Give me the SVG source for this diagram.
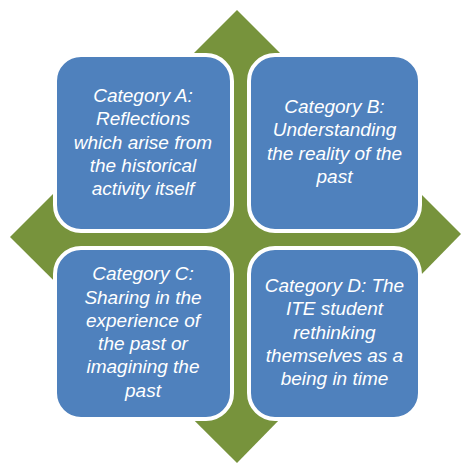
<svg xmlns="http://www.w3.org/2000/svg" width="461" height="464" viewBox="0 0 461 464">
<style>
.box{fill:#4F81BD;stroke:#FFFFFF;stroke-width:4}
.t{font-family:"Liberation Sans",Arial,sans-serif;font-style:italic;font-size:19px;fill:#FFFFFF;text-anchor:middle}
</style>
<rect width="461" height="464" fill="#FFFFFF"/>
<g id="connectors">
<path d="M237,10 L461,234 L237,463 L10,237 Z" fill="#77933C"/>
</g>
<g id="nodeA">
<rect class="box" x="55" y="55" width="177" height="176" rx="26"/>
<text class="t" x="143" y="102">Category A:</text>
<text class="t" x="143" y="125.3">Reflections</text>
<text class="t" x="143" y="148.6">which arise from</text>
<text class="t" x="143" y="171.9">the historical</text>
<text class="t" x="143" y="195.2">activity itself</text>
</g>
<g id="nodeB">
<rect class="box" x="249" y="55" width="171" height="176" rx="26"/>
<text class="t" x="334.5" y="113">Category B:</text>
<text class="t" x="334.5" y="136.3">Understanding</text>
<text class="t" x="334.5" y="159.6">the reality of the</text>
<text class="t" x="334.5" y="182.9">past</text>
</g>
<g id="nodeC">
<rect class="box" x="55" y="248" width="177" height="171" rx="26"/>
<text class="t" x="143" y="280.2">Category C:</text>
<text class="t" x="143" y="303.5">Sharing in the</text>
<text class="t" x="143" y="326.8">experience of</text>
<text class="t" x="143" y="350.1">the past or</text>
<text class="t" x="143" y="373.4">imagining the</text>
<text class="t" x="143" y="396.7">past</text>
</g>
<g id="nodeD">
<rect class="box" x="249" y="248" width="171" height="171" rx="26"/>
<text class="t" x="334.5" y="292">Category D: The</text>
<text class="t" x="334.5" y="315.3">ITE student</text>
<text class="t" x="334.5" y="338.6">rethinking</text>
<text class="t" x="334.5" y="361.9">themselves as a</text>
<text class="t" x="334.5" y="385.2">being in time</text>
</g>
</svg>
